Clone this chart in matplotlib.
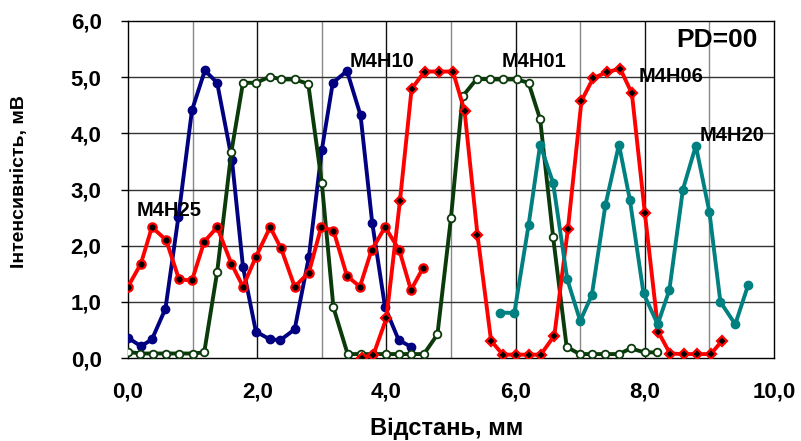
import numpy as np
import matplotlib
matplotlib.use("Agg")
from matplotlib import pyplot as plt
from matplotlib.ticker import MultipleLocator, FuncFormatter

plt.rcParams['font.family'] = ['Liberation Sans', 'DejaVu Sans']
plt.rcParams['font.weight'] = 'bold'

### data ###
blue_x = [0.0, 0.2, 0.37, 0.58, 0.78, 0.99, 1.19, 1.38, 1.61, 1.78, 1.98, 2.2, 2.36, 2.58,
          2.8, 3.0, 3.17, 3.39, 3.6, 3.78, 3.98, 4.19, 4.38]
blue_y = [0.36, 0.21, 0.33, 0.88, 2.51, 4.41, 5.12, 4.9, 3.52, 1.62, 0.47, 0.33, 0.32, 0.51,
          1.8, 3.7, 4.9, 5.11, 4.32, 2.41, 0.9, 0.32, 0.2]

green_x = [0.0, 0.19, 0.38, 0.59, 0.79, 1.0, 1.18, 1.38, 1.6, 1.78, 1.98, 2.2, 2.37, 2.58,
           2.79, 3.0, 3.18, 3.4, 3.6, 3.79, 3.99, 4.2, 4.38, 4.58, 4.79, 5.0, 5.18, 5.4,
           5.6, 5.81, 6.02, 6.2, 6.38, 6.58, 6.79, 6.99, 7.18, 7.39, 7.6, 7.78, 8.0, 8.19]
green_y = [0.11, 0.08, 0.08, 0.08, 0.08, 0.08, 0.1, 1.53, 3.67, 4.9, 4.9, 5.01, 4.96, 4.96,
           4.88, 3.12, 0.9, 0.07, 0.07, 0.07, 0.07, 0.07, 0.07, 0.07, 0.42, 2.5, 4.66, 4.97,
           4.96, 4.96, 4.96, 4.9, 4.25, 2.16, 0.2, 0.07, 0.07, 0.07, 0.07, 0.17, 0.1, 0.1]

red25_x = [0.0, 0.2, 0.37, 0.59, 0.79, 0.99, 1.18, 1.38, 1.6, 1.78, 1.98, 2.2, 2.37, 2.58,
           2.8, 2.99, 3.18, 3.39, 3.59, 3.77, 3.98, 4.2, 4.38, 4.57]
red25_y = [1.27, 1.68, 2.33, 2.1, 1.4, 1.38, 2.07, 2.33, 1.68, 1.27, 1.8, 2.33, 1.95, 1.27,
           1.52, 2.33, 2.27, 1.46, 1.27, 1.92, 2.33, 1.92, 1.21, 1.61]

red_x = [3.62, 3.8, 4.0, 4.21, 4.39, 4.59, 4.81, 5.03, 5.21, 5.41, 5.62, 5.8, 6.01, 6.21,
         6.39, 6.6, 6.81, 7.02, 7.2, 7.41, 7.62, 7.8, 8.0, 8.21, 8.39, 8.6, 8.81, 9.02, 9.2]
red_y = [0.0, 0.06, 0.71, 2.8, 4.79, 5.1, 5.1, 5.1, 4.4, 2.19, 0.31, 0.06, 0.06, 0.06,
         0.06, 0.4, 2.3, 4.58, 4.98, 5.09, 5.15, 4.71, 2.59, 0.46, 0.08, 0.07, 0.07, 0.07, 0.31]

teal_x = [5.76, 5.98, 6.2, 6.38, 6.58, 6.8, 7.0, 7.18, 7.39, 7.6, 7.77, 7.98, 8.2, 8.38,
          8.59, 8.79, 9.0, 9.17, 9.4, 9.6]
teal_y = [0.81, 0.8, 2.36, 3.8, 3.12, 1.4, 0.66, 1.12, 2.72, 3.8, 2.81, 1.15, 0.6, 1.21,
          3.0, 3.78, 2.6, 1.0, 0.6, 1.3]

labels = ['M4H10', 'M4H01', 'M4H06', 'M4H20', 'M4H25']
label_pos = [(3.43, 5.28), (5.79, 5.28), (7.9, 5.02), (8.85, 3.97), (0.14, 2.62)]

fig = plt.figure(figsize=(8.01, 4.41), dpi=100)
ax = fig.add_axes([128/801, 1-358/441, 646/801, 337/441])

ax.set_xlim(0, 10)
ax.set_ylim(0, 6)

# grid: odd verticals gray, even black
for gx in range(1, 10):
    ax.axvline(gx, color='#888888' if gx % 2 else '#111111', lw=1.0, zorder=1)
for gy in range(1, 6):
    ax.axhline(gy, color='#333333', lw=1.0, zorder=1)

lw = 2.8
ax.plot(blue_x, blue_y, color='#000080', lw=lw, marker='o', ms=6, mfc='#000080', mec='#000080', zorder=3,
        solid_joinstyle='round')
ax.plot(green_x, green_y, color='#0b3a0b', lw=lw, marker='o', ms=5.5, mfc='white', mec='#0b3a0b', mew=1.3, zorder=3,
        solid_joinstyle='round')
ax.plot(red25_x, red25_y, color='#ff0000', lw=lw, marker='o', ms=6, mfc='black', mec='#ff0000', mew=1.6, zorder=4,
        solid_joinstyle='round')
ax.plot(red_x, red_y, color='#ff0000', lw=lw, marker='D', ms=5.5, mfc='black', mec='#ff0000', mew=1.6, zorder=4,
        solid_joinstyle='round')
ax.plot(teal_x, teal_y, color='#008080', lw=lw, marker='o', ms=6, mfc='#008080', mec='#008080', zorder=5,
        solid_joinstyle='round')

for name, (tx, ty) in zip(labels, label_pos):
    ax.text(tx, ty, name, fontsize=14.5, fontweight='bold', va='center', ha='left', zorder=6)
ax.text(8.48, 5.66, 'PD=00', fontsize=19, fontweight='bold', va='center', ha='left', zorder=6)

ax.xaxis.set_major_locator(MultipleLocator(2))
ax.yaxis.set_major_locator(MultipleLocator(1))
fmt = FuncFormatter(lambda v, p: f"{v:.1f}".replace('.', ','))
ax.xaxis.set_major_formatter(fmt)
ax.yaxis.set_major_formatter(fmt)
ax.tick_params(axis='x', length=0, pad=17, labelsize=16)
ax.tick_params(axis='y', length=5, direction='out', pad=14, labelsize=16, width=1)
for lab in ax.get_xticklabels() + ax.get_yticklabels():
    lab.set_fontweight('bold')
for sp in ax.spines.values():
    sp.set_linewidth(1.0)

fig.text(447/801, 1-428/441, 'Відстань, мм', fontsize=17, fontweight='bold', ha='center', va='center')
fig.text(20/801, 1-182/441, 'Інтенсивність, мВ', fontsize=14, fontweight='bold', ha='center', va='center', rotation=90)

plt.savefig('out.png', dpi=100)
